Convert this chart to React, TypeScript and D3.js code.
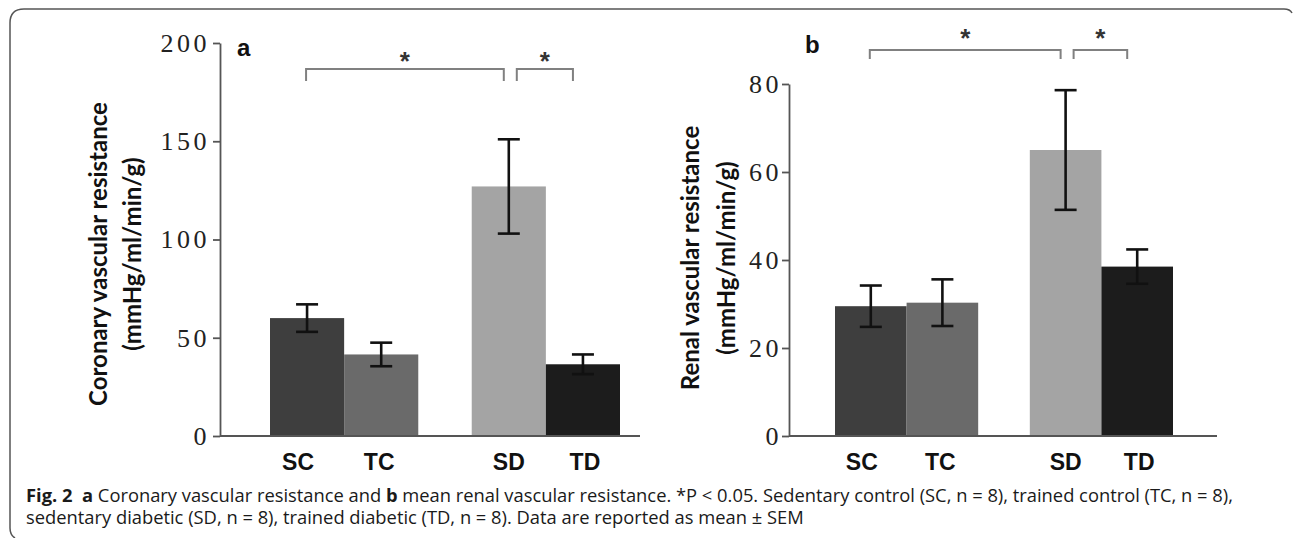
import * as d3 from 'd3';
import { useEffect, useRef } from 'react';

const categories = ['SC', 'TC', 'SD', 'TD'];
const groups = ['control', 'diabetic'];
const groupOf = ['control', 'control', 'diabetic', 'diabetic'];
const barColors = ['#3e3e3e', '#6a6a6a', '#a4a4a4', '#1c1c1c'];

const coronaryMean = [60, 41.5, 127, 36.5];
const coronarySem = [7, 6, 24, 5];
const coronaryTicks = [0, 50, 100, 150, 200];
const coronaryTitle = ['Coronary vascular resistance', '(mmHg/ml/min/g)'];

const renalMean = [29.5, 30.3, 65, 38.5];
const renalSem = [4.7, 5.3, 13.6, 3.9];
const renalTicks = [0, 20, 40, 60, 80];
const renalTitle = ['Renal vascular resistance', '(mmHg/ml/min/g)'];

// pairs marked * (P < 0.05)
const comparisons = [['SC', 'SD'], ['SD', 'TD']];

const W = 1293;
const H = 538;

const panels = [
  {
    letter: 'a', mean: coronaryMean, sem: coronarySem, ticks: coronaryTicks, title: coronaryTitle,
    axisX: 220, yTop: 43, yBase: 436, xEnd: 640, barStart: 270, barEnd: 620, tickPad: 3,
    titleX: [107, 141], titleY: 254, letterX: 237, letterY: 56,
    bracketY: 69, bracketDrop: 12, starY: 56,
  },
  {
    letter: 'b', mean: renalMean, sem: renalSem, ticks: renalTicks, title: renalTitle,
    axisX: 789, yTop: 84, yBase: 436, xEnd: 1217, barStart: 835, barEnd: 1173, tickPad: 0,
    titleX: [699, 735], titleY: 258, letterX: 805, letterY: 53,
    bracketY: 50, bracketDrop: 9, starY: 33,
  },
];

const labelShift = [-9, -2, 0, 2];
const bracketInsets = [[-1, -5], [8, -10]];

function drawPanel(g: any, p: any) {
  const y = d3.scaleLinear().domain([0, d3.max(p.ticks) as number]).range([p.yBase, p.yTop]);
  const outer = d3.scaleBand().domain(groups).range([p.barStart, p.barEnd]).paddingInner(0.265);
  const inner = d3.scaleBand().domain(['0', '1']).range([0, outer.bandwidth()]);
  const slot = (i: number) => String(groupOf.slice(0, i).filter(k => k === groupOf[i]).length);
  const x0 = (i: number) => (outer(groupOf[i]) as number) + (inner(slot(i)) as number);
  const cx = (i: number) => x0(i) + inner.bandwidth() / 2;

  // bars
  g.selectAll('.bar')
    .data(categories)
    .enter()
    .append('rect')
    .attr('x', (_: string, i: number) => x0(i))
    .attr('y', (_: string, i: number) => y(p.mean[i]))
    .attr('width', inner.bandwidth())
    .attr('height', (_: string, i: number) => p.yBase - y(p.mean[i]))
    .attr('fill', (_: string, i: number) => barColors[i]);

  // error bars
  const err = g.selectAll('.err').data(categories).enter().append('g');
  err.append('line')
    .attr('x1', (_: string, i: number) => cx(i)).attr('x2', (_: string, i: number) => cx(i))
    .attr('y1', (_: string, i: number) => y(p.mean[i] + p.sem[i]))
    .attr('y2', (_: string, i: number) => y(p.mean[i] - p.sem[i]));
  [1, -1].forEach(s => {
    err.append('line')
      .attr('x1', (_: string, i: number) => cx(i) - 11).attr('x2', (_: string, i: number) => cx(i) + 11)
      .attr('y1', (_: string, i: number) => y(p.mean[i] + s * p.sem[i]))
      .attr('y2', (_: string, i: number) => y(p.mean[i] + s * p.sem[i]));
  });
  err.selectAll('line').attr('stroke', '#111').attr('stroke-width', 2.6);

  // y axis
  const ax = g.append('g')
    .attr('transform', `translate(${p.axisX},0)`)
    .call(d3.axisLeft(y).tickValues(p.ticks).tickSize(7).tickSizeOuter(0).tickPadding(p.tickPad));
  ax.select('.domain').attr('stroke', '#555').attr('stroke-width', 1.8);
  ax.selectAll('.tick line').attr('stroke', '#555').attr('stroke-width', 1.8);
  ax.selectAll('.tick text')
    .attr('font-family', '"Liberation Serif", serif')
    .attr('font-size', 26)
    .attr('letter-spacing', 3.5)
    .attr('fill', '#222');

  // x axis line
  g.append('line')
    .attr('x1', p.axisX).attr('x2', p.xEnd)
    .attr('y1', y(0)).attr('y2', y(0))
    .attr('stroke', '#555').attr('stroke-width', 1.8);

  // category labels
  g.selectAll('.cat')
    .data(categories)
    .enter()
    .append('text')
    .attr('x', (_: string, i: number) => cx(i) + labelShift[i])
    .attr('y', 470)
    .attr('text-anchor', 'middle')
    .attr('font-family', '"Liberation Sans", Arial, sans-serif')
    .attr('font-weight', 'bold')
    .attr('font-size', 23)
    .attr('fill', '#111')
    .text((d: string) => d);

  // y title
  p.title.forEach((line: string, k: number) => {
    g.append('text')
      .attr('transform', `translate(${p.titleX[k]},${p.titleY}) rotate(-90)`)
      .attr('text-anchor', 'middle')
      .attr('font-family', 'Lato, sans-serif')
      .attr('font-weight', 'bold')
      .attr('font-size', 24)
      .attr('fill', '#111')
      .text(line);
  });

  // panel letter
  g.append('text')
    .attr('x', p.letterX).attr('y', p.letterY)
    .attr('font-family', '"Liberation Sans", Arial, sans-serif')
    .attr('font-weight', 'bold')
    .attr('font-size', 24)
    .attr('fill', '#111')
    .text(p.letter);

  // significance brackets
  comparisons.forEach(([a, b], k) => {
    const xa = cx(categories.indexOf(a)) + bracketInsets[k][0];
    const xb = cx(categories.indexOf(b)) + bracketInsets[k][1];
    const by = p.bracketY;
    g.append('path')
      .attr('d', `M${xa},${by + p.bracketDrop}V${by}H${xb}V${by + p.bracketDrop}`)
      .attr('fill', 'none')
      .attr('stroke', '#808080')
      .attr('stroke-width', 2);
    g.append('text')
      .attr('x', (xa + xb) / 2)
      .attr('y', p.starY + 14)
      .attr('text-anchor', 'middle')
      .attr('font-family', '"Liberation Sans", Arial, sans-serif')
      .attr('font-weight', 'bold')
      .attr('font-size', 26)
      .attr('fill', '#333')
      .text('*');
  });
}

const App = () => {
  const svgRef = useRef(null);

  useEffect(() => {
    const svg = d3.select(svgRef.current);
    svg.selectAll('*').remove();

    svg.append('rect').attr('width', W).attr('height', H).attr('fill', '#fff');

    // frame
    svg.append('path')
      .attr('d', 'M1292,13 Q1290,9 1284,9 L24,9 Q10,9 10,23 L10,528 Q10,535 15,538')
      .attr('fill', 'none')
      .attr('stroke', '#555')
      .attr('stroke-width', 1.5);

    panels.forEach(p => drawPanel(svg.append('g'), p));

    // caption
    const cap = svg.append('g')
      .attr('font-family', '"Open Sans", sans-serif')
      .attr('font-size', 18)
      .attr('fill', '#1a1a1a');
    const l1 = cap.append('text').attr('x', 26).attr('y', 502);
    l1.append('tspan').attr('font-weight', 'bold').text('Fig. 2');
    l1.append('tspan').text('\u00a0\u00a0');
    l1.append('tspan').attr('font-weight', 'bold').text('a');
    l1.append('tspan').text(' Coronary vascular resistance and ');
    l1.append('tspan').attr('font-weight', 'bold').text('b');
    l1.append('tspan').text(' mean renal vascular resistance. *P < 0.05. Sedentary control (SC, n = 8), trained control (TC, n = 8),');
    const l2 = cap.append('text').attr('x', 26).attr('y', 524)
      .text('sedentary diabetic (SD, n = 8), trained diabetic (TD, n = 8). Data are reported as mean \u00b1 SEM');

    const n1 = (l1.node() as any).getComputedTextLength();
    const n2 = (l2.node() as any).getComputedTextLength();
    const r = 1207 / n1;
    l1.attr('textLength', 1207).attr('lengthAdjust', 'spacingAndGlyphs');
    l2.attr('textLength', n2 * r).attr('lengthAdjust', 'spacingAndGlyphs');
  }, []);

  return (
    <svg
      ref={svgRef}
      width={W}
      height={H}
      style={{ position: 'absolute', left: 0, top: 0 }}
    ></svg>
  );
};

export default App;
